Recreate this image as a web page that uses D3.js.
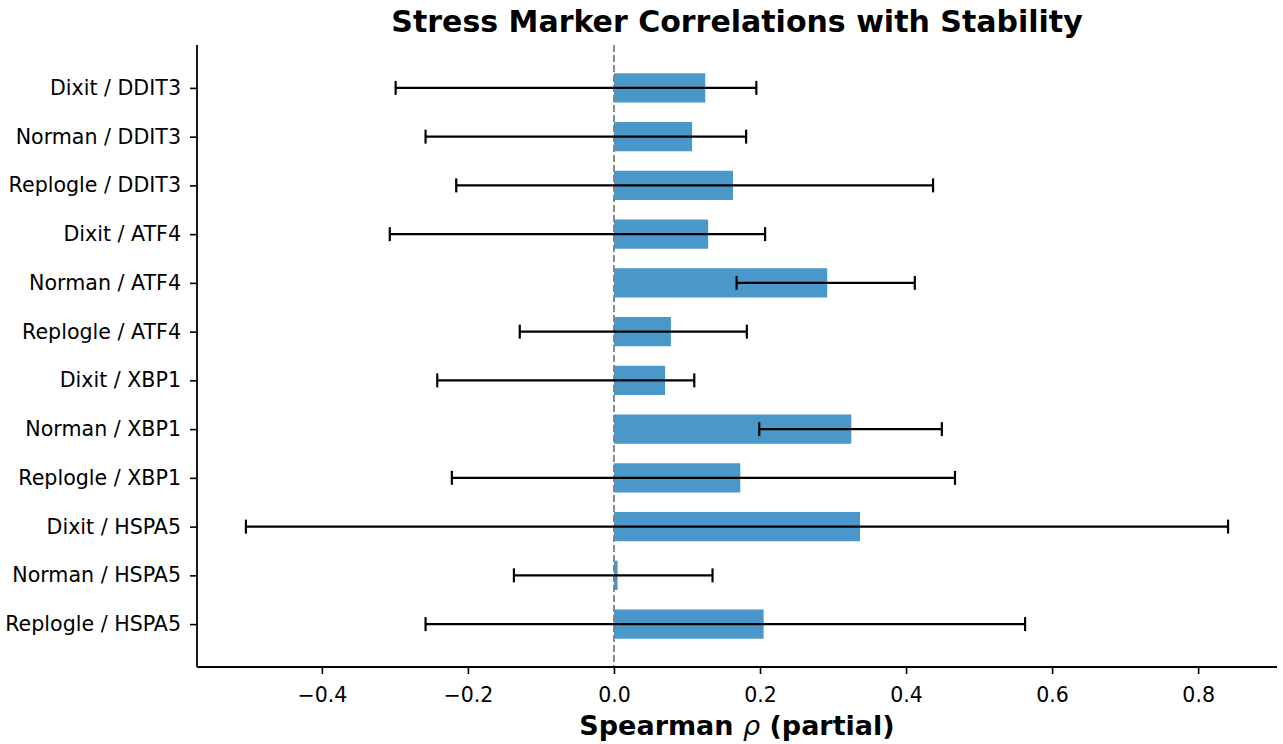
<!DOCTYPE html>
<html>
<head>
<meta charset="utf-8">
<script src="https://cdn.jsdelivr.net/npm/d3@7"></script>
<style>
  body { margin: 0; background: #fff; }
  svg { font-family: "DejaVu Sans", sans-serif; }
</style>
</head>
<body>
<svg id="chart" width="1283" height="744"></svg>
<script>
// Partial Spearman correlation of each stress marker with stability, per dataset
const labels = [
  "Dixit / DDIT3", "Norman / DDIT3", "Replogle / DDIT3",
  "Dixit / ATF4", "Norman / ATF4", "Replogle / ATF4",
  "Dixit / XBP1", "Norman / XBP1", "Replogle / XBP1",
  "Dixit / HSPA5", "Norman / HSPA5", "Replogle / HSPA5"
];
const rho     = [0.125, 0.107, 0.163, 0.129, 0.292, 0.078, 0.070, 0.325, 0.173, 0.337, 0.005, 0.205];
const ciLow   = [-0.299, -0.258, -0.216, -0.307, 0.168, -0.129, -0.242, 0.199, -0.222, -0.504, -0.137, -0.258];
const ciHigh  = [0.195, 0.181, 0.437, 0.207, 0.412, 0.182, 0.110, 0.449, 0.467, 0.841, 0.135, 0.563];
const xTicks  = [-0.4, -0.2, 0.0, 0.2, 0.4, 0.6, 0.8];

const svg = d3.select("#chart");
const m = { left: 197, right: 1277, top: 45, bottom: 667 };

const x = d3.scaleLinear().domain([-0.571, 0.908]).range([m.left, m.right]);
const y = d3.scaleLinear().domain([-0.88, labels.length - 1 + 0.88]).range([m.top, m.bottom]);
const barH = y(0.3) - y(-0.3);

// bars
svg.append("g").selectAll("rect").data(rho).join("rect")
  .attr("x", d => Math.min(x(0), x(d)))
  .attr("y", (d, i) => y(i) - barH / 2)
  .attr("width", d => Math.abs(x(d) - x(0)))
  .attr("height", barH)
  .attr("fill", "#4a98c9");

// zero reference line
svg.append("line")
  .attr("x1", x(0)).attr("x2", x(0))
  .attr("y1", m.top).attr("y2", m.bottom)
  .attr("stroke", "#808080").attr("stroke-width", 1.8)
  .attr("stroke-dasharray", "7,3");

// confidence interval whiskers
const eb = svg.append("g").attr("stroke", "#000").attr("stroke-width", 2.2);
labels.forEach((l, i) => {
  eb.append("line").attr("x1", x(ciLow[i])).attr("x2", x(ciHigh[i]))
    .attr("y1", y(i)).attr("y2", y(i));
  [ciLow[i], ciHigh[i]].forEach(v => {
    eb.append("line").attr("x1", x(v)).attr("x2", x(v))
      .attr("y1", y(i) - 7).attr("y2", y(i) + 7);
  });
});

// x axis
const xAxis = svg.append("g")
  .attr("transform", `translate(0,${m.bottom})`)
  .call(d3.axisBottom(x).tickValues(xTicks).tickSize(7).tickPadding(13)
    .tickFormat(d => d3.format(".1f")(d).replace("-", "\u2212")));
xAxis.select(".domain").attr("d", `M${m.left},0H${m.right}`).attr("stroke-width", 1.8);
xAxis.selectAll(".tick line").attr("stroke-width", 1.6);
xAxis.selectAll(".tick text").attr("font-size", 20.5).attr("fill", "#000")
  .attr("font-family", "DejaVu Sans");

// y axis
const yAxis = svg.append("g")
  .attr("transform", `translate(${m.left},0)`)
  .call(d3.axisLeft(y).tickValues(d3.range(labels.length)).tickSize(7).tickPadding(9)
    .tickFormat(i => labels[i]));
yAxis.select(".domain").attr("d", `M0,${m.top}V${m.bottom}`).attr("stroke-width", 1.8);
yAxis.selectAll(".tick line").attr("stroke-width", 1.6);
yAxis.selectAll(".tick text").attr("font-size", 20.6).attr("fill", "#000")
  .attr("font-family", "DejaVu Sans");

// title and axis label
svg.append("text")
  .attr("x", (m.left + m.right) / 2).attr("y", 32)
  .attr("text-anchor", "middle").attr("font-weight", "bold").attr("font-size", 30)
  .text("Stress Marker Correlations with Stability");

const xl = svg.append("text")
  .attr("x", (m.left + m.right) / 2).attr("y", 735)
  .attr("text-anchor", "middle").attr("font-weight", "bold").attr("font-size", 27);
xl.append("tspan").text("Spearman ");
xl.append("tspan").attr("font-style", "italic").attr("font-weight", "normal").text("\u03c1");
xl.append("tspan").text(" (partial)");
</script>
</body>
</html>
